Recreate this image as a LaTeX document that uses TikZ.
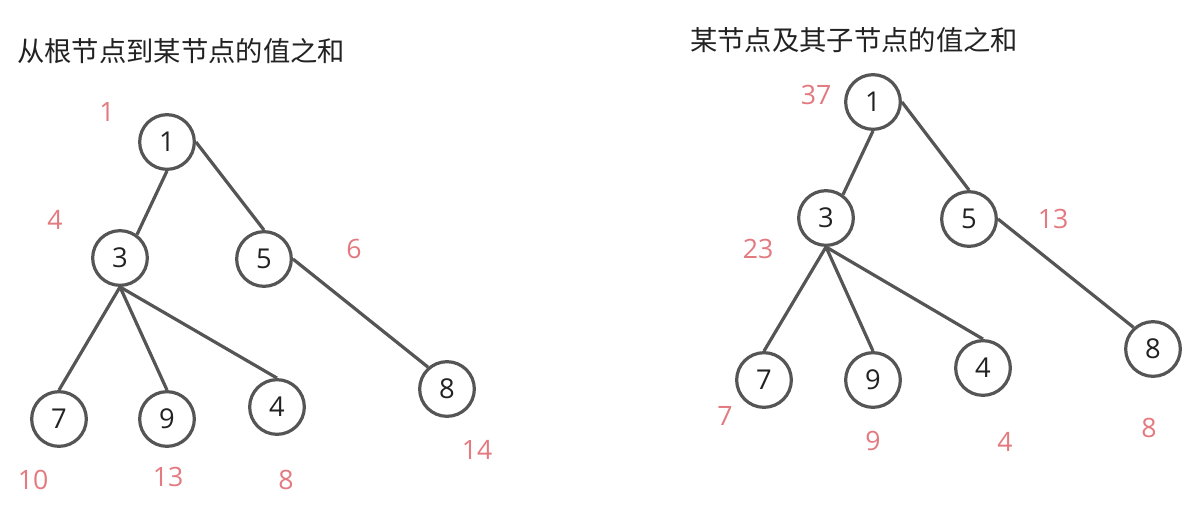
\documentclass[tikz,border=0pt]{standalone}
\usepackage{fontspec}
\setmainfont{Open Sans}
\newfontfamily\cjk{Noto Sans CJK SC}
\definecolor{edgegray}{RGB}{85,85,85}
\definecolor{pinklbl}{RGB}{226,122,128}
\definecolor{txt}{RGB}{34,34,34}
\begin{document}
\begin{tikzpicture}[x=0.75pt,y=-0.75pt,
  tn/.style={circle,draw=edgegray,line width=2.4pt,minimum size=41pt,inner sep=0pt,
             font=\fontsize{20.5}{20.5}\selectfont,text=txt,fill=white},
  lbl/.style={text=pinklbl,font=\fontsize{20}{20}\selectfont,inner sep=0pt},
  ed/.style={draw=edgegray,line width=2.4pt},
  ttl/.style={anchor=west,inner sep=0pt,text=txt}]
\useasboundingbox (0,0) rectangle (1191,514);

% ---------- left tree ----------
\node[ttl,font=\cjk\fontsize{20.5}{20.5}\selectfont] (lt) at (17,51) {从根节点到某节点的值之和};
\node[tn] (a1) at (167,142) {1};
\node[tn] (a3) at (120,258) {3};
\node[tn] (a5) at (264,259) {5};
\node[tn] (a7) at (59,419) {7};
\node[tn] (a9) at (167,419) {9};
\node[tn] (a4) at (277,407) {4};
\node[tn] (a8) at (447,389) {8};
\draw[ed] (a1.south) -- (a3.54);
\draw[ed] (a1.east) -- (a5.north);
\draw[ed] (a3.south) -- (a7.north);
\draw[ed] (a3.south) -- (a9.north);
\draw[ed] (a3.south) -- (a4.north);
\draw[ed] (a5.east) -- (a8.131);
\node[lbl] (la1) at (107,112) {1};
\node[lbl] (la3) at (55,220) {4};
\node[lbl] (la5) at (354,249) {6};
\node[lbl] (la7) at (33,480) {10};
\node[lbl] (la9) at (168,477) {13};
\node[lbl] (la4) at (286,480) {8};
\node[lbl] (la8) at (477,450) {14};

% ---------- right tree ----------
\node[ttl,font=\cjk\fontsize{20.5}{20.5}\selectfont] (rt) at (690,40) {某节点及其子节点的值之和};
\node[tn] (b1) at (873,102) {1};
\node[tn] (b3) at (826,218) {3};
\node[tn] (b5) at (969,219) {5};
\node[tn] (b7) at (764,380) {7};
\node[tn] (b9) at (873,380) {9};
\node[tn] (b4) at (983,368) {4};
\node[tn] (b8) at (1153,349) {8};
\draw[ed] (b1.south) -- (b3.54);
\draw[ed] (b1.east) -- (b5.north);
\draw[ed] (b3.south) -- (b7.north);
\draw[ed] (b3.south) -- (b9.north);
\draw[ed] (b3.south) -- (b4.north);
\draw[ed] (b5.east) -- (b8.132);
\node[lbl] (lb1) at (816,95) {37};
\node[lbl] (lb3) at (758,249) {23};
\node[lbl] (lb5) at (1053,219) {13};
\node[lbl] (lb7) at (725,416) {7};
\node[lbl] (lb9) at (873,441) {9};
\node[lbl] (lb4) at (1005,442) {4};
\node[lbl] (lb8) at (1149,428) {8};
\end{tikzpicture}
\end{document}
